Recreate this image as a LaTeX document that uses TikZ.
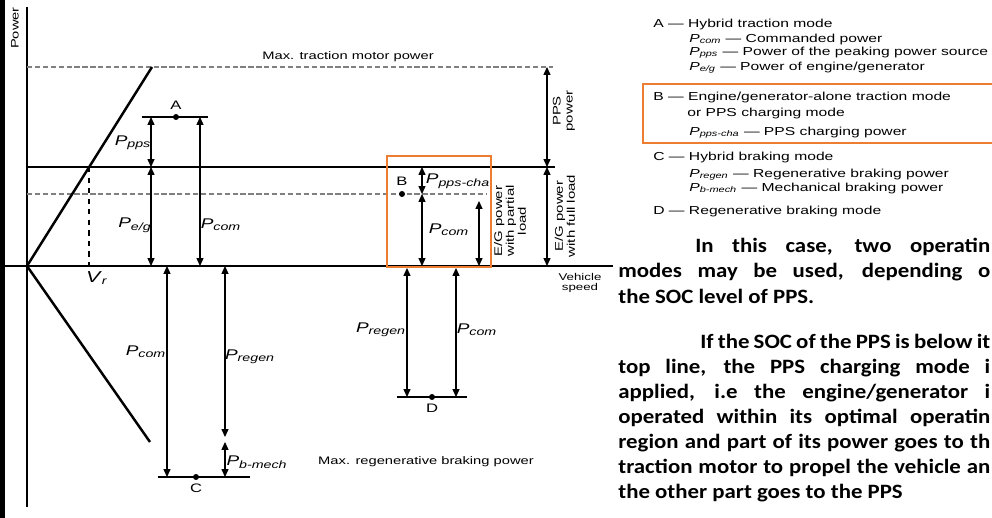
\documentclass[tikz,border=0pt]{standalone}
\usepackage{fontspec}
\setmainfont{Liberation Sans}[FakeStretch=1.35]
\newfontfamily\bodyfont{Carlito}[FakeStretch=1.12]
\usetikzlibrary{arrows.meta,positioning}
\definecolor{modeorange}{RGB}{237,125,49}
\newcommand{\pw}[1]{\textit{P}\textsubscript{\textit{#1}}}
\newcommand{\jline}[2]{\makebox[#1][s]{#2}}

\begin{document}
\begin{tikzpicture}[x=0.02cm,y=-0.02cm,
  dim/.style={{Triangle[length=4.5pt,width=4pt]}-{Triangle[length=4.5pt,width=4pt]},line width=0.6pt},
  guide/.style={gray,dash pattern=on 3pt off 1.5pt,line width=0.7pt},
  lbl/.style={font=\fontsize{6.2}{7}\selectfont,inner sep=0pt},
  plbl/.style={font=\fontsize{8}{9}\selectfont,inner sep=0pt},
  vlbl/.style={font=\fontsize{6.3}{6.8}\selectfont,rotate=90,align=center,inner sep=0pt},
  opdot/.style={circle,fill,inner sep=0pt,minimum size=3.4pt},
  leg/.style={font=\fontsize{6.6}{7}\selectfont,anchor=base west,inner sep=0pt},
  body/.style={font=\bodyfont\bfseries\fontsize{11.6}{12}\selectfont,anchor=base west,inner sep=0pt}]
\useasboundingbox (0,0) rectangle (992,518);
\clip (0,0) rectangle (992,518);
\draw[line width=2.5pt] (2.5,0) -- (2.5,518);
% axes
\coordinate (O) at (27,266);
\coordinate (ytop) at (27,7); \coordinate (ybot) at (27,507);
\coordinate (xl) at (5,266); \coordinate (xr) at (613,266);
\draw[line width=0.6pt] (ytop) -- (ybot); \draw[line width=0.6pt] (xl) -- (xr);
\node[lbl,rotate=90] (power) at (15,28) {Power};
\node[lbl,align=center,font=\fontsize{5.6}{5.6}\selectfont] (speed) at (580,283) {Vehicle\\speed};
% power levels
\coordinate (maxl) at (27,67); \coordinate (maxr) at (553,67);
\coordinate (fulll) at (27,167); \coordinate (fullr) at (555,167);
\coordinate (partl) at (27,194); \coordinate (partr) at (487,194);
\draw[guide] (maxl) -- (maxr);
\draw[line width=0.6pt] (fulll) -- (fullr);
\draw[guide] (partl) -- (partr);
\node[lbl] (maxtm) at (348,57) {Max. traction motor power};
\node[lbl] (maxrb) at (426,462) {Max. regenerative braking power};
% motor characteristics
\coordinate (tmtop) at (152,67); \coordinate (rbbot) at (150,442);
\draw[line width=1.4pt] (tmtop) -- (O) -- (rbbot);
\coordinate (vrtop) at (89,167); \coordinate (vrbot) at (89,266);
\draw[dashed,line width=0.6pt] (vrtop) -- (vrbot);
\node[plbl,font=\fontsize{9}{10}\selectfont] (vr) at (97,278) {\textit{V}\textsubscript{\textit{r}}};
% point A
\coordinate (al) at (142,117); \coordinate (ar) at (208,117);
\draw[line width=0.6pt] (al) -- (ar);
\node[opdot] (A) at (176,117) {};
\node[lbl,font=\fontsize{7}{8}\selectfont,above=2pt of A] (Alab) {A};
\coordinate (a1) at (151,117); \coordinate (a2) at (151,167); \coordinate (a3) at (151,266);
\coordinate (a4) at (200,117); \coordinate (a5) at (200,266);
\draw[dim] (a1) -- (a2); \draw[dim] (a2) -- (a3); \draw[dim] (a4) -- (a5);
\node[plbl] (ppsA) at (133,143) {\pw{pps}};
\node[plbl] (egA) at (135,225) {\pw{e/g}};
\node[plbl] (comA) at (221,225) {\pw{com}};
% point C
\coordinate (cl) at (158,477); \coordinate (cr) at (250,477);
\draw[line width=0.6pt] (cl) -- (cr);
\node[opdot] (C) at (196,477) {};
\node[lbl,font=\fontsize{7}{8}\selectfont,below=2pt of C] (Clab) {C};
\coordinate (c1) at (167,266); \coordinate (c2) at (167,477);
\coordinate (c3) at (225,266); \coordinate (c4) at (225,437); \coordinate (c5) at (225,442); \coordinate (c6) at (225,477);
\draw[dim] (c1) -- (c2); \draw[dim] (c3) -- (c4); \draw[dim] (c5) -- (c6);
\node[plbl] (comC) at (146,352) {\pw{com}};
\node[plbl] (regC) at (250,357) {\pw{regen}};
\node[plbl] (mechC) at (257,462) {\pw{b-mech}};
% point B
\draw[modeorange,line width=1.6pt] (387,156) rectangle (491,267);
\node[opdot] (B) at (402,194) {};
\node[lbl,font=\fontsize{7}{8}\selectfont,above=3pt of B] (Blab) {B};
\coordinate (b1) at (422,167); \coordinate (b2) at (422,194); \coordinate (b3) at (422,266);
\coordinate (b4) at (479,201); \coordinate (b5) at (479,266);
\draw[dim] (b1) -- (b2); \draw[dim] (b2) -- (b3); \draw[dim] (b4) -- (b5);
\node[plbl] (chaB) at (458,181) {\pw{pps-cha}};
\node[plbl] (comB) at (449,230) {\pw{com}};
\node[vlbl] (partial) at (510,221) {E/G power\\with partial\\load};
% point D
\coordinate (dl) at (397,397); \coordinate (dr) at (467,397);
\draw[line width=0.6pt] (dl) -- (dr);
\node[opdot] (D) at (432,397) {};
\node[lbl,font=\fontsize{7}{8}\selectfont,below=2pt of D] (Dlab) {D};
\coordinate (d1) at (407,268); \coordinate (d2) at (407,397);
\coordinate (d3) at (456,268); \coordinate (d4) at (456,397);
\draw[dim] (d1) -- (d2); \draw[dim] (d3) -- (d4);
\node[plbl] (regD) at (381,330) {\pw{regen}};
\node[plbl] (comD) at (477,330) {\pw{com}};
% PPS / E/G ranges
\coordinate (r1) at (547,67); \coordinate (r2) at (547,167); \coordinate (r3) at (547,266);
\draw[dim] (r1) -- (r2); \draw[dim] (r2) -- (r3);
\node[vlbl] (ppsrange) at (564,111) {PPS\\power};
\node[vlbl] (fullrange) at (565,216) {E/G power\\with full load};
% legend
\draw[modeorange,line width=1.6pt] (643,84) rectangle (1000,143);
\node[leg] (legA) at (653,27) {A --- Hybrid traction mode};
\node[leg] (legcom) at (689,42) {\pw{com} --- Commanded power};
\node[leg] (legpps) at (689,55) {\pw{pps} --- Power of the peaking power source};
\node[leg] (legeg) at (689,70) {\pw{e/g} --- Power of engine/generator};
\node[leg] (legB) at (653,100) {B --- Engine/generator-alone traction mode};
\node[leg] (legB2) at (687,116) {or PPS charging mode};
\node[leg] (legcha) at (689,135) {\pw{pps-cha} --- PPS charging power};
\node[leg] (legC) at (653,160) {C --- Hybrid braking mode};
\node[leg] (legreg) at (689,177) {\pw{regen} --- Regenerative braking power};
\node[leg] (legmech) at (689,191) {\pw{b-mech} --- Mechanical braking power};
\node[leg] (legD) at (653,214) {D --- Regenerative braking mode};
% text
\node[body] (t1) at (695,252) {\jline{5.9cm}{In this case, two operatin}};
\node[body] (t2) at (618,277) {\jline{7.44cm}{modes may be used, depending o}};
\node[body] (t3) at (618,303) {the SOC level of PPS.};
\node[body] (t4) at (700,348) {\jline{5.8cm}{If the SOC of the PPS is below it}};
\node[body] (t5) at (618,373) {\jline{7.44cm}{top line, the PPS charging mode i}};
\node[body] (t6) at (618,398) {\jline{7.44cm}{applied, i.e the engine/generator i}};
\node[body] (t7) at (618,423) {\jline{7.44cm}{operated within its optimal operatin}};
\node[body] (t8) at (618,448) {\jline{7.44cm}{region and part of its power goes to th}};
\node[body] (t9) at (618,473) {\jline{7.44cm}{traction motor to propel the vehicle an}};
\node[body] (t10) at (618,498) {the other part goes to the PPS};
\end{tikzpicture}
\end{document}
